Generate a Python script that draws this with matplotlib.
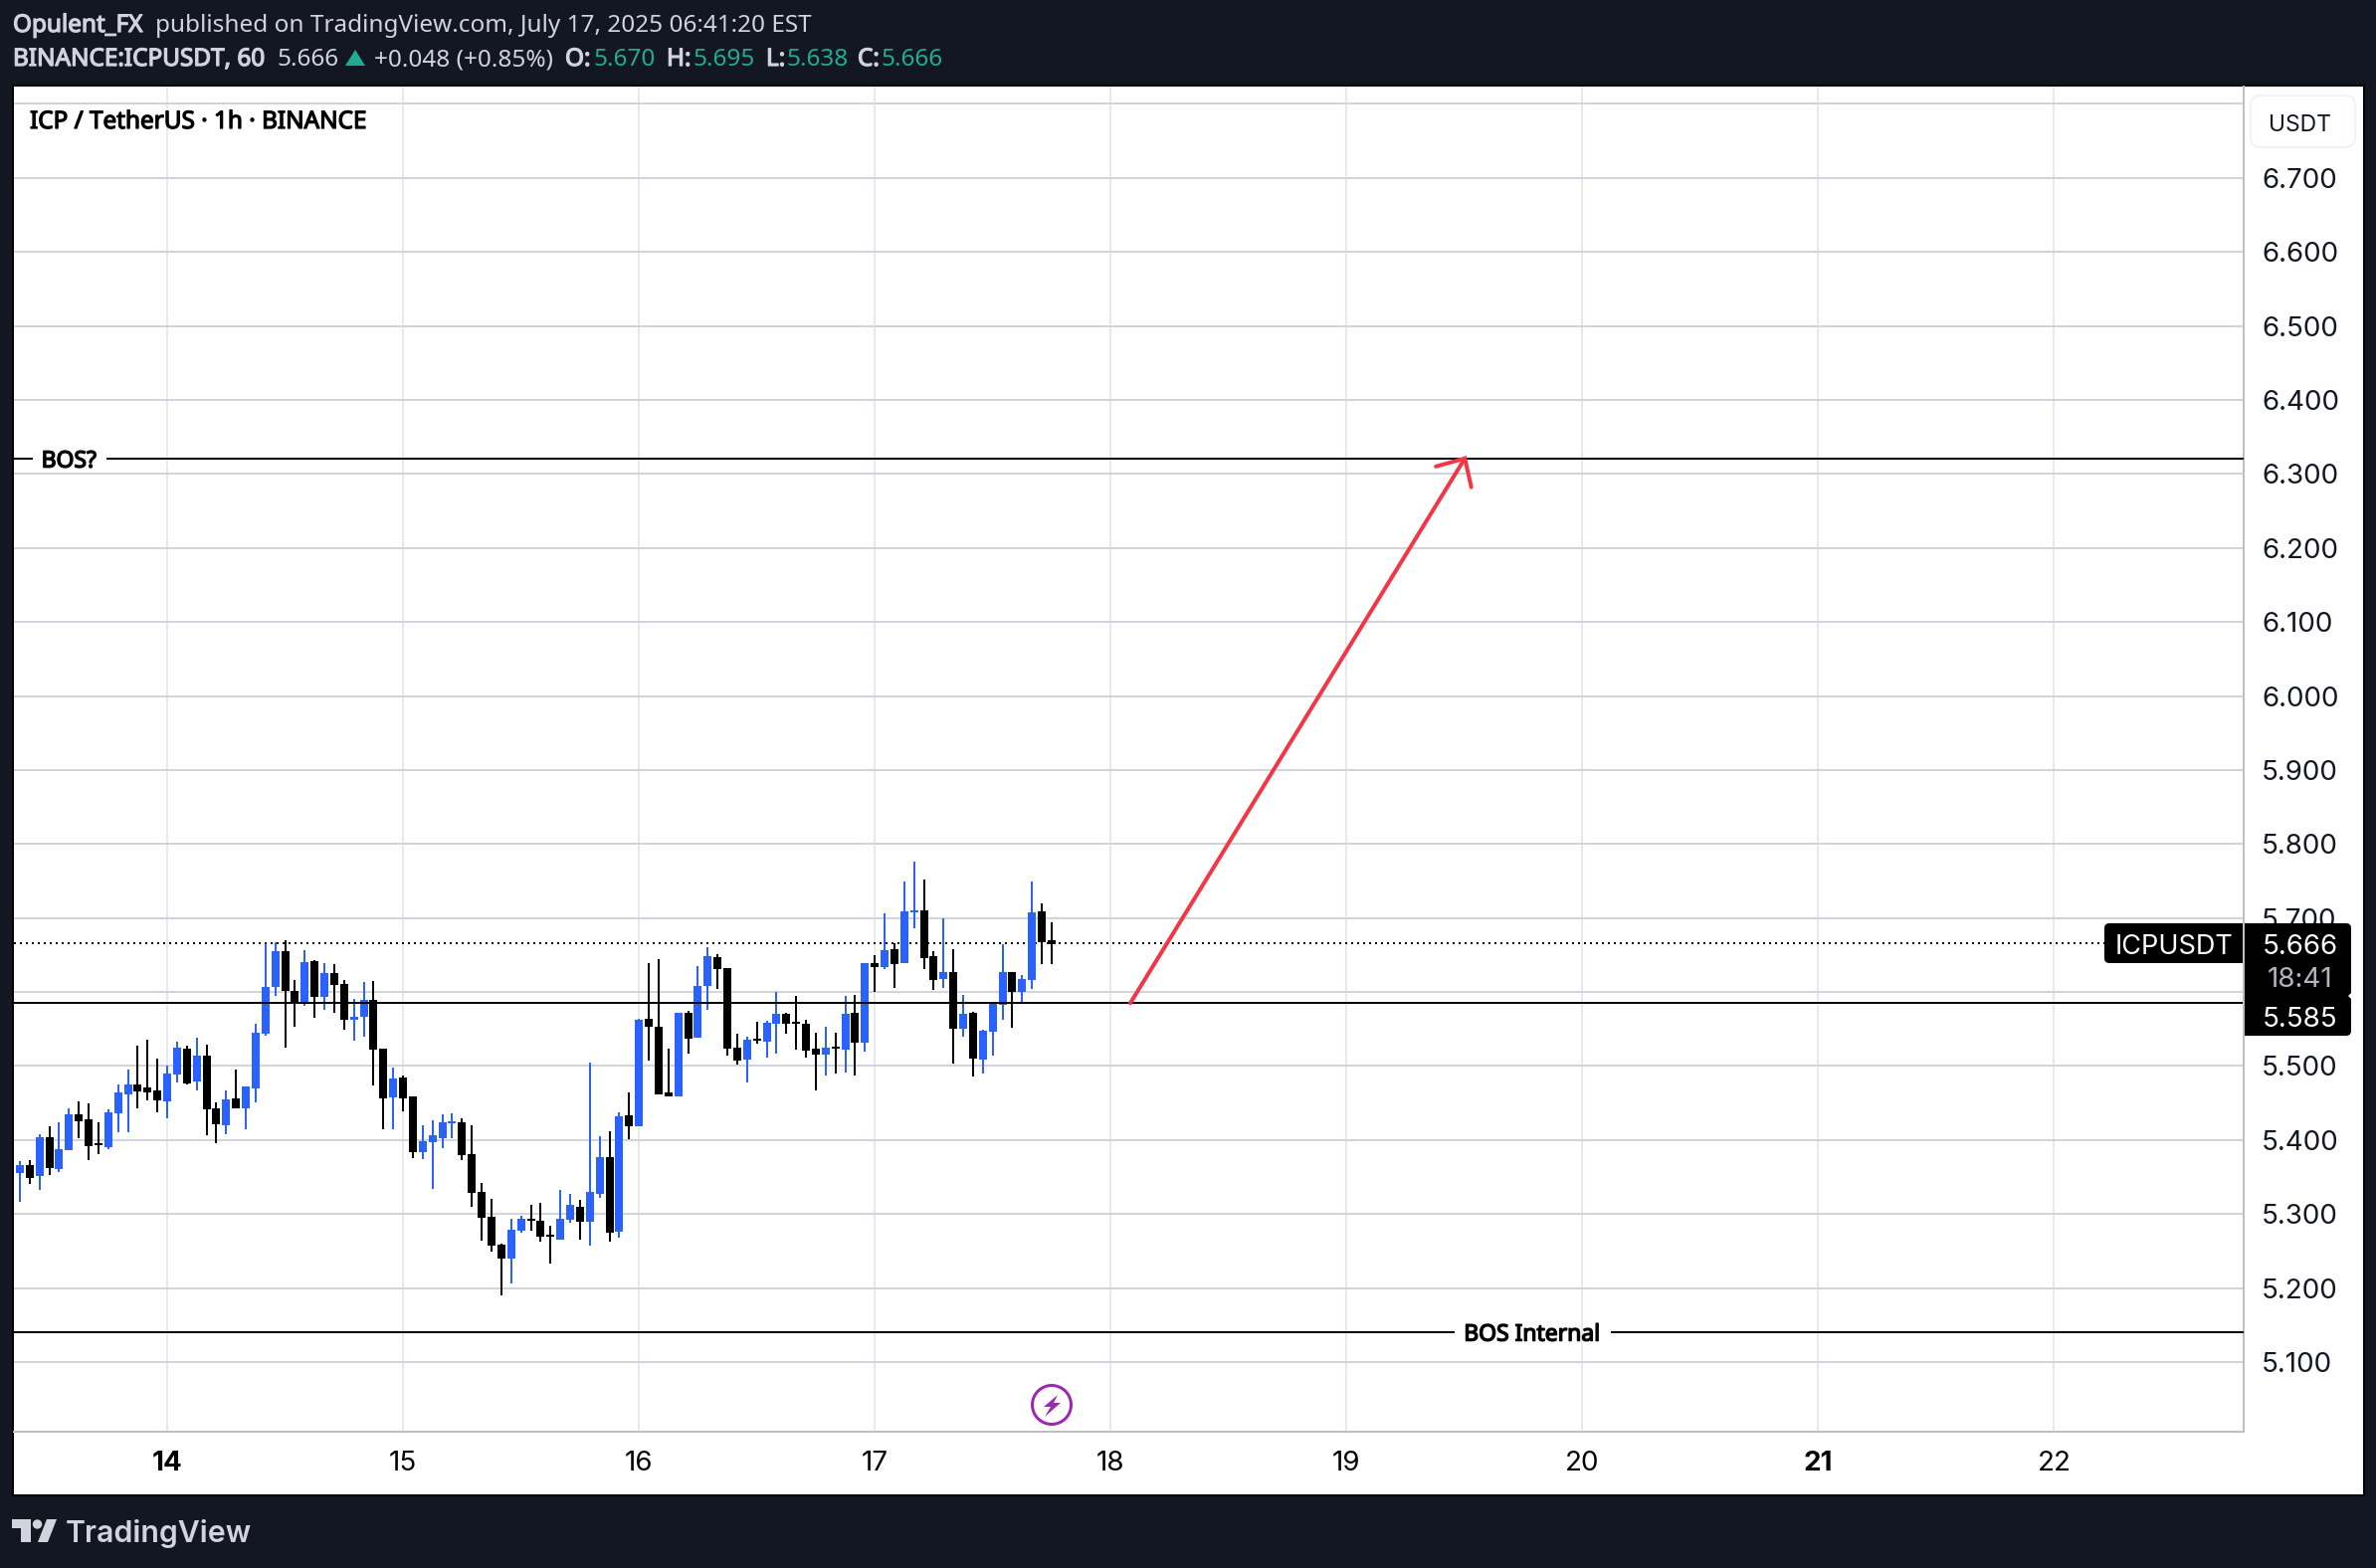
import matplotlib
matplotlib.use("Agg")
import matplotlib.pyplot as plt
import matplotlib.patheffects as pe
from matplotlib.patches import Rectangle, FancyBboxPatch, Polygon, Circle
import numpy as np

W, H = 2388, 1576
BG = "#131722"; LIGHT = "#D1D4DC"; TEAL = "#22AB94"; BLUE = "#2962FF"; RED = "#F23645"; PURPLE = "#9C27B0"
PT = 0.72  # points per pixel at dpi 100

opens = [5.355,5.366,5.352,5.404,5.361,5.386,5.435,5.428,5.396,5.391,
5.436,5.462,5.475,5.471,5.467,5.452,5.489,5.524,5.479,5.514,
5.443,5.420,5.456,5.443,5.470,5.544,5.607,5.655,5.601,5.587,
5.642,5.593,5.626,5.611,5.562,5.566,5.589,5.524,5.458,5.485,
5.459,5.384,5.397,5.403,5.423,5.424,5.381,5.330,5.296,5.259,
5.240,5.278,5.294,5.291,5.272,5.265,5.292,5.310,5.290,5.327,
5.377,5.276,5.433,5.419,5.564,5.553,5.464,5.459,5.572,5.538,
5.608,5.647,5.632,5.525,5.509,5.537,5.533,5.557,5.570,5.560,
5.557,5.524,5.515,5.526,5.522,5.572,5.532,5.639,5.634,5.658,
5.639,5.708,5.710,5.649,5.618,5.627,5.550,5.572,5.509,5.546,
5.583,5.627,5.600,5.616,5.709,5.670]
closes = [5.366,5.349,5.404,5.362,5.388,5.435,5.425,5.392,5.393,5.438,
5.464,5.475,5.466,5.464,5.454,5.490,5.525,5.477,5.514,5.442,
5.421,5.455,5.443,5.472,5.545,5.607,5.655,5.601,5.587,5.640,
5.593,5.626,5.610,5.562,5.566,5.589,5.522,5.456,5.483,5.456,
5.384,5.398,5.407,5.424,5.425,5.380,5.329,5.295,5.257,5.240,
5.279,5.294,5.291,5.270,5.270,5.294,5.312,5.290,5.330,5.377,
5.275,5.432,5.419,5.562,5.553,5.462,5.459,5.572,5.537,5.608,
5.649,5.631,5.524,5.507,5.536,5.534,5.558,5.570,5.557,5.557,
5.521,5.515,5.525,5.524,5.570,5.532,5.639,5.634,5.657,5.638,
5.709,5.710,5.646,5.616,5.627,5.550,5.570,5.510,5.548,5.584,
5.627,5.600,5.618,5.708,5.667,5.665]
highs = [5.372,5.373,5.408,5.419,5.424,5.443,5.452,5.450,5.424,5.442,
5.475,5.495,5.528,5.536,5.510,5.501,5.533,5.528,5.538,5.529,
5.451,5.467,5.495,5.472,5.557,5.665,5.667,5.670,5.616,5.657,
5.643,5.639,5.638,5.616,5.591,5.614,5.615,5.524,5.498,5.487,
5.459,5.420,5.427,5.435,5.436,5.430,5.420,5.342,5.321,5.260,
5.294,5.298,5.312,5.315,5.284,5.333,5.327,5.319,5.505,5.405,
5.412,5.438,5.464,5.564,5.639,5.644,5.524,5.572,5.575,5.635,
5.661,5.651,5.632,5.544,5.540,5.560,5.561,5.600,5.572,5.595,
5.562,5.545,5.553,5.545,5.595,5.596,5.639,5.650,5.706,5.666,
5.749,5.776,5.752,5.655,5.700,5.658,5.596,5.573,5.549,5.585,
5.665,5.627,5.623,5.749,5.720,5.694]
lows = [5.317,5.341,5.333,5.353,5.357,5.386,5.403,5.373,5.381,5.388,
5.411,5.411,5.443,5.454,5.438,5.430,5.478,5.475,5.467,5.407,
5.396,5.408,5.443,5.415,5.451,5.541,5.595,5.525,5.553,5.581,
5.565,5.576,5.572,5.549,5.534,5.540,5.474,5.415,5.415,5.439,
5.376,5.374,5.334,5.389,5.403,5.373,5.310,5.264,5.249,5.190,
5.206,5.275,5.278,5.263,5.233,5.265,5.288,5.265,5.257,5.322,
5.263,5.268,5.401,5.419,5.507,5.462,5.459,5.459,5.517,5.538,
5.576,5.604,5.514,5.502,5.478,5.530,5.511,5.517,5.544,5.522,
5.511,5.467,5.487,5.490,5.491,5.487,5.519,5.600,5.631,5.606,
5.639,5.686,5.631,5.603,5.606,5.503,5.540,5.486,5.490,5.514,
5.562,5.552,5.584,5.604,5.638,5.638]
first_candle_hour = -15   # hours relative to day 14 00:00

day_labels = ["14","15","16","17","18","19","20","21","22"]
bold_days = ["14","21"]
grid_prices = [5.1,5.2,5.3,5.4,5.5,5.6,5.7,5.8,5.9,6.0,6.1,6.2,6.3,6.4,6.5,6.6,6.7,6.8]
price_labels = [5.1,5.2,5.3,5.4,5.5,5.7,5.8,5.9,6.0,6.1,6.2,6.3,6.4,6.5,6.6,6.7]
last_price = 5.666
support = 5.585
bos_top = 6.321
bos_internal = 5.141
arrow_hours = [98.0, 132.05]
arrow_prices = [5.585, 6.321]
barb_hours = [129.1, 132.05, 132.7]
barb_prices = [6.31, 6.321, 6.282]

fig = plt.figure(figsize=(W/100, H/100), dpi=100, facecolor=BG)

def rect(l, t, r, b):
    return [l/W, 1-b/H, (r-l)/W, (b-t)/H]

def pixel_axes(z):
    a = fig.add_axes([0,0,1,1], zorder=z)
    a.set_xlim(0, W); a.set_ylim(H, 0); a.axis("off"); a.patch.set_alpha(0)
    return a

base = pixel_axes(-1)
base.add_patch(Rectangle((12,85), 2365, 1419, fc="black", ec="none"))
base.add_patch(Rectangle((14,87), 2361, 1415, fc="white", ec="none"))

def embolden(t, color, w=0.9):
    t.set_path_effects([pe.withStroke(linewidth=w, foreground=color)])

# chart mapping
y_lim = (5.006, 6.8233)
x_lim = (-15.6, 211.3)
ax = fig.add_axes(rect(14,87,2255,1439), zorder=1, facecolor="white")
ax.set_xlim(*x_lim); ax.set_ylim(*y_lim)
ax.set_yticks(grid_prices); ax.set_yticklabels([])
hours = [24*i for i in range(len(day_labels))]
ax.set_xticks(hours)
ax.set_xticklabels(day_labels, family="Inter", fontsize=20, color="#000000")
for lbl in ax.get_xticklabels():
    if lbl.get_text() in bold_days:
        lbl.set_fontweight("bold")
ax.tick_params(axis="both", length=0)
ax.tick_params(axis="x", pad=14)
ax.set_axisbelow(True)
ax.yaxis.grid(True, color="#D1D4DC", lw=2*PT)
ax.xaxis.grid(True, color="#E8E9F0", lw=2*PT)
for s in ["top","left"]:
    ax.spines[s].set_visible(False)
for s in ["bottom","right"]:
    ax.spines[s].set_color("#BFBFBF"); ax.spines[s].set_linewidth(2*PT)

x = np.arange(len(opens)) + first_candle_hour
o, h, l, c = map(np.array, (opens, highs, lows, closes))
cols = np.where(c >= o, BLUE, "#000000")
ax.vlines(x, l, h, colors=cols, lw=2*PT, zorder=3, antialiased=False)
ax.bar(x, np.maximum(np.abs(c-o), 0.002), bottom=np.minimum(o, c), width=0.81, color=cols, zorder=3, antialiased=False)

# levels
ax.axhline(last_price, color="black", lw=2*PT, ls=(0, (1, 2)), zorder=2)
ax.axhline(support, color="black", lw=2*PT, zorder=4)
ax.plot([x_lim[0], -13.8], [bos_top]*2, color="black", lw=2*PT, zorder=4)
ax.plot([-6.1, x_lim[1]], [bos_top]*2, color="black", lw=2*PT, zorder=4)
ax.plot([x_lim[0], 130.9], [bos_internal]*2, color="black", lw=2*PT, zorder=4)
ax.plot([147.0, x_lim[1]], [bos_internal]*2, color="black", lw=2*PT, zorder=4)
for hx, py, s in [(-10.0, bos_top, "BOS?"), (138.9, bos_internal, "BOS Internal")]:
    t = ax.text(hx, py, s, family="Noto Sans", fontsize=16.5, ha="center", va="center_baseline", color="#000000", zorder=5)
    embolden(t, "#000000", 1.0)

# arrow
ax.plot(arrow_hours, arrow_prices, color=RED, lw=4*PT, zorder=6, solid_capstyle="round")
ax.plot(barb_hours, barb_prices, color=RED, lw=4*PT, zorder=6, solid_capstyle="round", solid_joinstyle="miter")

# price scale
axp = fig.add_axes(rect(2255,87,2375,1439), zorder=1)
axp.patch.set_alpha(0)
axp.set_ylim(*y_lim); axp.set_xticks([])
axp.yaxis.tick_left()
axp.set_yticks(price_labels)
axp.set_yticklabels([f"{v:.3f}" for v in price_labels], family="Inter", fontsize=20, color="#131722", ha="left")
axp.tick_params(axis="y", length=0)
for lbl in axp.get_yticklabels():
    lbl.set_x(18/120)
    lbl.set_transform(axp.get_yaxis_transform())
for s in axp.spines.values():
    s.set_visible(False)

# overlay
ov = pixel_axes(10)

def tx(x_, y_, s, color=LIGHT, weight="normal", size=17.5, family="Noto Sans", ha="left", va="baseline"):
    t = ov.text(x_, y_, s, color=color, fontsize=size, family=family, ha=ha, va=va,
                weight=("normal" if weight == "bold" else weight))
    if weight == "bold":
        embolden(t, color)
    return t

tx(13, 32, "Opulent_FX", weight="bold")
tx(156, 32, "published on TradingView.com, July 17, 2025 06:41:20 EST")
tx(13, 66, "BINANCE:ICPUSDT, 60", weight="bold")
tx(278, 66, "5.666")
ov.add_patch(Polygon([(347,66),(357,50),(367,66)], fc=TEAL, ec="none"))
tx(376, 66, "+0.048 (+0.85%)")
for x0, lab, x1, val in [(568,"O:",596,"5.670"),(670,"H:",696,"5.695"),(770,"L:",790,"5.638"),(862,"C:",885,"5.666")]:
    tx(x0, 66, lab, weight="bold")
    tx(x1, 66, val, color=TEAL)
tx(30, 129, "ICP / TetherUS · 1h · BINANCE", color="#000000", weight="bold")

# USDT chip
ov.add_patch(FancyBboxPatch((2268,102), 93, 40, boxstyle="round,pad=6,rounding_size=10", fc="white", ec="#F0F3FA", lw=1.5))
tx(2312, 123, "USDT", color="#131722", size=16.5, family="Inter", ha="center", va="center_baseline")

# price tags
ov.add_patch(FancyBboxPatch((2119,932), 140, 32, boxstyle="round,pad=4,rounding_size=5", fc="black", ec="none"))
ov.add_patch(FancyBboxPatch((2260,932), 99, 105, boxstyle="round,pad=4,rounding_size=5", fc="black", ec="none"))
ov.add_patch(Rectangle((2256,928), 12, 113, fc="black", ec="none"))
ov.add_patch(Rectangle((2254,928), 2, 113, fc="#BFBFBF", ec="none"))
ov.add_patch(Polygon([(2364,997),(2360,1001),(2364,1005)], fc="white", ec="none"))
tx(2185, 949, "ICPUSDT", color="white", size=19.5, family="Inter", ha="center", va="center_baseline")
tx(2312, 949, "5.666", color="white", size=20, family="Inter", ha="center", va="center_baseline")
tx(2312, 982, "18:41", color="#B2B5BE", size=20, family="Inter", ha="center", va="center_baseline")
tx(2312, 1022, "5.585", color="white", size=20, family="Inter", ha="center", va="center_baseline")

# lightning icon
ov.add_patch(Circle((1057,1412), 19.5, fc="white", ec=PURPLE, lw=3*PT))
ov.add_patch(Polygon([(1063,1402),(1049,1414),(1056,1414),(1050,1424),(1066,1410),(1059,1410)], fc=PURPLE, ec="none"))

# TradingView logo
ov.add_patch(Polygon([(12,1527),(31,1527),(31,1550),(21,1550),(21,1536),(12,1536)], fc=LIGHT, ec="none"))
ov.add_patch(Circle((37.5,1532), 4.7, fc=LIGHT, ec="none"))
ov.add_patch(Polygon([(47,1527),(57,1527),(48,1550),(38,1550)], fc=LIGHT, ec="none"))
tx(66, 1550, "TradingView", weight="semibold", size=21.8, family="Inter")

fig.savefig("out.png", dpi=100, facecolor=BG)
